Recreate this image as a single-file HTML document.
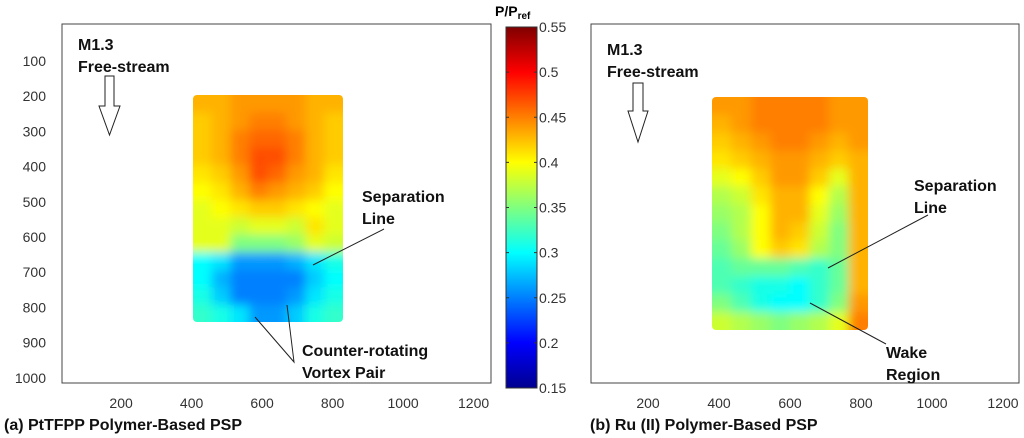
<!DOCTYPE html>
<html><head><meta charset="utf-8"><style>
body{margin:0;background:#fff;width:1024px;height:438px;overflow:hidden}
svg{display:block;font-family:"Liberation Sans",sans-serif}
</style></head><body>
<svg id="s" width="1024" height="438" viewBox="0 0 1024 438">
<defs>
<filter id="bl" x="-5%" y="-5%" width="110%" height="110%"><feGaussianBlur stdDeviation="5"/></filter>
<clipPath id="ca"><rect x="193" y="95" width="150" height="227" rx="4"/></clipPath>
<clipPath id="cb"><rect x="712" y="97" width="156" height="233" rx="4"/></clipPath>
<linearGradient id="jet" x1="0" y1="1" x2="0" y2="0">
<stop offset="0" stop-color="#00008f"/><stop offset="0.125" stop-color="#0000ff"/><stop offset="0.375" stop-color="#00ffff"/><stop offset="0.625" stop-color="#ffff00"/><stop offset="0.875" stop-color="#ff0000"/><stop offset="1" stop-color="#800000"/></linearGradient>
</defs>
<g id="pa">
<rect x="62" y="24" width="429" height="359" fill="none" stroke="#444" stroke-width="1"/>
<g clip-path="url(#ca)"><g id="ha" filter="url(#bl)"></g></g>
</g>
<g id="pb">
<rect x="591" y="24" width="428" height="359" fill="none" stroke="#444" stroke-width="1"/>
<g clip-path="url(#cb)"><g id="hb" filter="url(#bl)"></g></g>
</g>
<g id="ticks" font-size="14" fill="#333"></g>
<g>
<rect x="506" y="27" width="31" height="361" fill="url(#jet)" stroke="#333" stroke-width="1"/>
<text x="495" y="16" font-size="14" font-weight="bold">P/P<tspan font-size="10" dy="3">ref</tspan></text>
<g id="cbt" font-size="14" fill="#333"></g>
</g>
<g font-weight="bold" font-size="16" fill="#111">
<text x="78" y="50">M1.3</text>
<text x="78" y="72">Free-stream</text>
<path d="M105,76 H114 V106 H120 L109.5,135 L99,106 H105 Z" fill="#fff" stroke="#222"/>
<text x="362" y="202">Separation</text>
<text x="362" y="224">Line</text>
<line x1="384" y1="229" x2="313" y2="265" stroke="#222"/>
<text x="302" y="356">Counter-rotating</text>
<text x="302" y="378">Vortex Pair</text>
<polyline points="255,317 294,362 287,305" fill="none" stroke="#222"/>
<text x="4" y="430">(a) PtTFPP Polymer-Based PSP</text>
<text x="607" y="55">M1.3</text>
<text x="607" y="77">Free-stream</text>
<path d="M633,83 H643 V111 H648 L638,142 L628,111 H633 Z" fill="#fff" stroke="#222"/>
<text x="914" y="191">Separation</text>
<text x="914" y="213">Line</text>
<line x1="928" y1="215" x2="828" y2="268" stroke="#222"/>
<text x="886" y="358">Wake</text>
<text x="886" y="380">Region</text>
<line x1="886" y1="344" x2="810" y2="303" stroke="#222"/>
<text x="590" y="430">(b) Ru (II) Polymer-Based PSP</text>
</g>
</svg>
<script>
const xTicks=[200,400,600,800,1000,1200];
const yTicks=[100,200,300,400,500,600,700,800,900,1000];
const cbTicks=[0.15,0.2,0.25,0.3,0.35,0.4,0.45,0.5,0.55];
const aXRange=[404,829], aYRange=[197,842];
const bXRange=[380,820], bYRange=[202,864];
const gridA=[
[.43,.43,.44,.44,.44,.44,.43,.43],
[.42,.43,.44,.45,.45,.44,.43,.42],
[.42,.43,.45,.46,.46,.45,.43,.42],
[.42,.43,.45,.47,.47,.45,.43,.42],
[.41,.42,.44,.47,.46,.44,.43,.41],
[.40,.41,.43,.45,.44,.43,.42,.40],
[.39,.40,.41,.42,.42,.41,.40,.39],
[.39,.39,.38,.39,.39,.38,.41,.39],
[.39,.39,.35,.35,.35,.36,.39,.38],
[.30,.29,.26,.26,.26,.27,.29,.31],
[.30,.27,.25,.25,.25,.25,.28,.30],
[.31,.28,.25,.25,.25,.26,.29,.31],
[.32,.31,.29,.26,.26,.28,.31,.32]];
const gridB=[
[.44,.44,.45,.45,.45,.45,.44,.44],
[.43,.44,.45,.45,.45,.45,.44,.44],
[.42,.43,.44,.45,.45,.44,.43,.44],
[.41,.42,.43,.44,.44,.43,.42,.43],
[.39,.40,.42,.44,.44,.42,.39,.43],
[.37,.38,.41,.43,.43,.40,.37,.43],
[.36,.37,.40,.43,.43,.39,.36,.43],
[.35,.37,.40,.43,.42,.38,.35,.43],
[.34,.36,.40,.42,.41,.37,.35,.43],
[.33,.34,.34,.34,.33,.32,.34,.43],
[.33,.32,.31,.31,.30,.32,.34,.43],
[.35,.33,.31,.30,.30,.32,.35,.44],
[.38,.37,.36,.35,.36,.37,.39,.45]];
const NS="http://www.w3.org/2000/svg";
const sy=v=>25.8+v*0.352;
const sxA=v=>50.6+v*0.3525;
const sxB=v=>577+v*0.355;
const cbY=v=>388-(v-0.15)/0.4*361;
function jet(v){let t=Math.max(0,Math.min(1,(v-0.15)/0.4));const c=x=>Math.round(255*Math.max(0,Math.min(1,1.5-Math.abs(4*t-x))));return `rgb(${c(3)},${c(2)},${c(1)})`;}
function heat(gid,grid,xr,yr,sx){
 const g=document.getElementById(gid);const R=grid.length,C=grid[0].length;
 const dx=(xr[1]-xr[0])/C,dy=(yr[1]-yr[0])/R;
 for(let r=0;r<R;r++)for(let c=0;c<C;c++){
  const x0=xr[0]+c*dx,y0=yr[0]+r*dy;
  const ex0=c==0?x0-60:x0, ex1=c==C-1?x0+dx+60:x0+dx, ey0=r==0?y0-60:y0, ey1=r==R-1?y0+dy+60:y0+dy;
  const e=document.createElementNS(NS,'rect');
  e.setAttribute('x',sx(ex0));e.setAttribute('y',sy(ey0));
  e.setAttribute('width',sx(ex1)-sx(ex0)+0.5);e.setAttribute('height',sy(ey1)-sy(ey0)+0.5);
  e.setAttribute('fill',jet(grid[r][c]));
  
  
  g.appendChild(e);
 }
}
heat('ha',gridA,aXRange,aYRange,sxA);
heat('hb',gridB,bXRange,bYRange,sxB);
const tg=document.getElementById('ticks');
function txt(p,x,y,s,anchor,name){const t=document.createElementNS(NS,'text');t.setAttribute('x',x);t.setAttribute('y',y);t.setAttribute('text-anchor',anchor);t.textContent=s;
 
 
 p.appendChild(t);}
yTicks.forEach(v=>txt(tg,46,sy(v)+5,v,'end','y-tick-label-a'));
xTicks.forEach(v=>txt(tg,sxA(v),408,v,'middle','x-tick-label-a'));
xTicks.forEach(v=>txt(tg,sxB(v),408,v,'middle','x-tick-label-b'));
const cg=document.getElementById('cbt');
cbTicks.forEach(v=>{const y=cbY(v);txt(cg,539,y+5,String(v),'start','colorbar-tick-label');
 [[506,509],[534,537]].forEach(a=>{const l=document.createElementNS(NS,'line');l.setAttribute('x1',a[0]);l.setAttribute('x2',a[1]);l.setAttribute('y1',y);l.setAttribute('y2',y);l.setAttribute('stroke','#333');
 
 
 cg.appendChild(l);});});
</script>
</body></html>
